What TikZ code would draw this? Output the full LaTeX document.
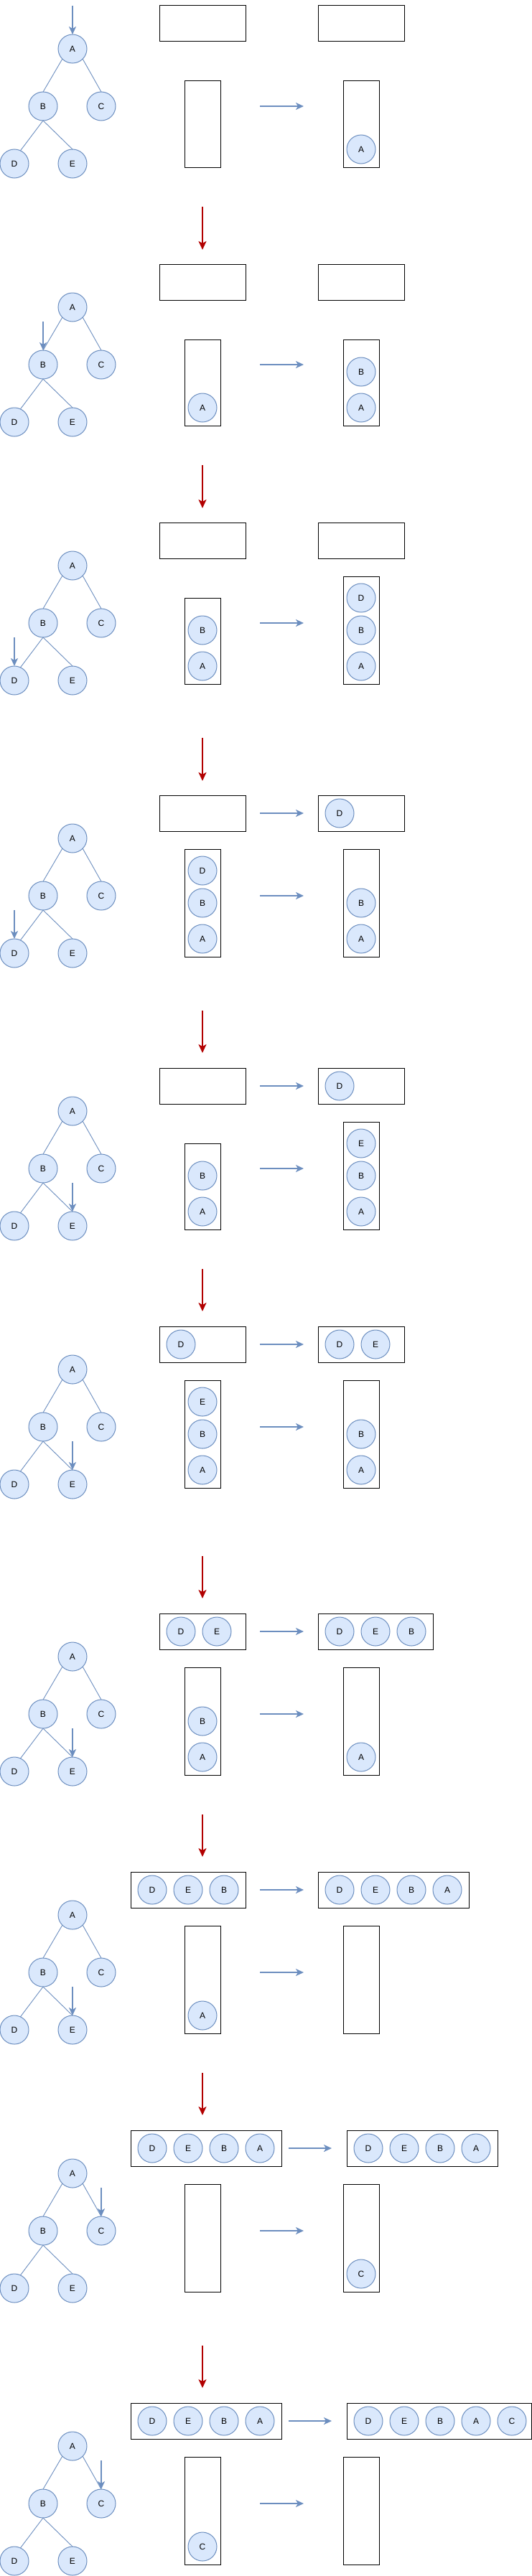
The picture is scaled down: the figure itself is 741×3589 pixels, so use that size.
\documentclass[tikz,border=0pt]{standalone}
\usepackage{fontspec}
\setmainfont{Liberation Sans}
\usetikzlibrary{arrows.meta,calc}
\definecolor{cblue}{HTML}{6C8EBF}
\definecolor{cfill}{HTML}{DAE8FC}
\definecolor{cred}{HTML}{B20000}

\tikzset{
  cnode/.style={circle, draw=cblue, fill=cfill, line width=1pt, minimum size=40pt, inner sep=0pt, outer sep=0pt, font=\fontsize{12}{14}\selectfont},
  box/.style={draw=black, line width=1pt, inner sep=0pt, outer sep=0pt},
  tedge/.style={draw=cblue, line width=0.9pt},
  barrow/.style={draw=cblue, line width=2pt, -{Stealth[length=11pt,width=10pt,inset=3pt]}},
  rarrow/.style={draw=cred, line width=2pt, -{Stealth[length=12pt,width=11pt,inset=3pt]}}
}

\newcommand\mytree[3]{%
  \node[cnode] (#1tA) at (101,#2+68) {A};
  \node[cnode] (#1tB) at (60,#2+148) {B};
  \node[cnode] (#1tC) at (141,#2+148) {C};
  \node[cnode] (#1tD) at (20,#2+228) {D};
  \node[cnode] (#1tE) at (101,#2+228) {E};
  \draw[tedge] (#1tA.south west) -- (#1tB.north);
  \draw[tedge] (#1tA.south east) -- (#1tC.north);
  \draw[tedge] (#1tB.south) -- (#1tD.65);
  \draw[tedge] (#1tB.south) -- (#1tE.north);
  \coordinate (#1p) at ($(#1t#3.north)+(0,-40)$);
  \draw[barrow] (#1p) -- (#1t#3.north);
}
\newcommand\mytopbox[4]{\node[box, minimum width=#4pt, minimum height=50pt, anchor=north west] (#1) at (#2,#3+8) {};}
\newcommand\mystack[4]{\node[box, minimum width=50pt, minimum height=#4pt, anchor=south] (#1) at (#2,#3) {};}
\newcommand\mycirc[4]{\node[cnode] (#1) at (#2,#3) {#4};}
\newcommand\myarrow[6]{\coordinate (#2s) at (#3,#4); \coordinate (#2e) at (#5,#6); \draw[#1] (#2s) -- (#2e);}

\begin{document}
\begin{tikzpicture}[x=1pt, y=-1pt]
\useasboundingbox (0,0) rectangle (741,3589);

% ---------- Block 1 ----------
\mytree{b1}{0}{A}
\mytopbox{b1TL}{222}{0}{120}
\mytopbox{b1TR}{443}{0}{120}
\mystack{b1SL}{282}{233}{120}
\mystack{b1SR}{503}{233}{120}
\mycirc{b1R1}{503}{208}{A}
\myarrow{barrow}{b1m}{362}{148}{423}{148}
\myarrow{rarrow}{r1}{282}{288}{282}{348}

% ---------- Block 2 ----------
\mytree{b2}{360}{B}
\mytopbox{b2TL}{222}{360}{120}
\mytopbox{b2TR}{443}{360}{120}
\mystack{b2SL}{282}{593}{120}
\mystack{b2SR}{503}{593}{120}
\mycirc{b2L1}{282}{568}{A}
\mycirc{b2R1}{503}{568}{A}
\mycirc{b2R2}{503}{518}{B}
\myarrow{barrow}{b2m}{362}{508}{423}{508}
\myarrow{rarrow}{r2}{282}{648}{282}{708}

% ---------- Block 3 ----------
\mytree{b3}{720}{D}
\mytopbox{b3TL}{222}{720}{120}
\mytopbox{b3TR}{443}{720}{120}
\mystack{b3SL}{282}{953}{120}
\mystack{b3SR}{503}{953}{150}
\mycirc{b3L1}{282}{928}{A}
\mycirc{b3L2}{282}{878}{B}
\mycirc{b3R1}{503}{928}{A}
\mycirc{b3R2}{503}{878}{B}
\mycirc{b3R3}{503}{833}{D}
\myarrow{barrow}{b3m}{362}{868}{423}{868}
\myarrow{rarrow}{r3}{282}{1028}{282}{1088}

% ---------- Block 4 ----------
\mytree{b4}{1100}{D}
\mytopbox{b4TL}{222}{1100}{120}
\mytopbox{b4TR}{443}{1100}{120}
\mycirc{b4T1}{473}{1133}{D}
\myarrow{barrow}{b4t}{362}{1133}{423}{1133}
\mystack{b4SL}{282}{1333}{150}
\mystack{b4SR}{503}{1333}{150}
\mycirc{b4L1}{282}{1308}{A}
\mycirc{b4L2}{282}{1258}{B}
\mycirc{b4L3}{282}{1213}{D}
\mycirc{b4R1}{503}{1308}{A}
\mycirc{b4R2}{503}{1258}{B}
\myarrow{barrow}{b4m}{362}{1248}{423}{1248}
\myarrow{rarrow}{r4}{282}{1408}{282}{1467}

% ---------- Block 5 ----------
\mytree{b5}{1480}{E}
\mytopbox{b5TL}{222}{1480}{120}
\mytopbox{b5TR}{443}{1480}{120}
\mycirc{b5T1}{473}{1513}{D}
\myarrow{barrow}{b5t}{362}{1513}{423}{1513}
\mystack{b5SL}{282}{1713}{120}
\mystack{b5SR}{503}{1713}{150}
\mycirc{b5L1}{282}{1688}{A}
\mycirc{b5L2}{282}{1638}{B}
\mycirc{b5R1}{503}{1688}{A}
\mycirc{b5R2}{503}{1638}{B}
\mycirc{b5R3}{503}{1593}{E}
\myarrow{barrow}{b5m}{362}{1628}{423}{1628}
\myarrow{rarrow}{r5}{282}{1768}{282}{1827}

% ---------- Block 6 ----------
\mytree{b6}{1840}{E}
\mytopbox{b6TL}{222}{1840}{120}
\mytopbox{b6TR}{443}{1840}{120}
\mycirc{b6S1}{252}{1873}{D}
\mycirc{b6T1}{473}{1873}{D}
\mycirc{b6T2}{523}{1873}{E}
\myarrow{barrow}{b6t}{362}{1873}{423}{1873}
\mystack{b6SL}{282}{2073}{150}
\mystack{b6SR}{503}{2073}{150}
\mycirc{b6L1}{282}{2048}{A}
\mycirc{b6L2}{282}{1998}{B}
\mycirc{b6L3}{282}{1953}{E}
\mycirc{b6R1}{503}{2048}{A}
\mycirc{b6R2}{503}{1998}{B}
\myarrow{barrow}{b6m}{362}{1988}{423}{1988}
\myarrow{rarrow}{r6}{282}{2168}{282}{2227}

% ---------- Block 7 ----------
\mytree{b7}{2240}{E}
\mytopbox{b7TL}{222}{2240}{120}
\mytopbox{b7TR}{443}{2240}{160}
\mycirc{b7S1}{252}{2273}{D}
\mycirc{b7S2}{302}{2273}{E}
\mycirc{b7T1}{473}{2273}{D}
\mycirc{b7T2}{523}{2273}{E}
\mycirc{b7T3}{573}{2273}{B}
\myarrow{barrow}{b7t}{362}{2273}{423}{2273}
\mystack{b7SL}{282}{2473}{150}
\mystack{b7SR}{503}{2473}{150}
\mycirc{b7L1}{282}{2448}{A}
\mycirc{b7L2}{282}{2398}{B}
\mycirc{b7R1}{503}{2448}{A}
\myarrow{barrow}{b7m}{362}{2388}{423}{2388}
\myarrow{rarrow}{r7}{282}{2528}{282}{2587}

% ---------- Block 8 ----------
\mytree{b8}{2600}{E}
\mytopbox{b8TL}{182}{2600}{160}
\mytopbox{b8TR}{443}{2600}{210}
\mycirc{b8S1}{212}{2633}{D}
\mycirc{b8S2}{262}{2633}{E}
\mycirc{b8S3}{312}{2633}{B}
\mycirc{b8T1}{473}{2633}{D}
\mycirc{b8T2}{523}{2633}{E}
\mycirc{b8T3}{573}{2633}{B}
\mycirc{b8T4}{623}{2633}{A}
\myarrow{barrow}{b8t}{362}{2633}{423}{2633}
\mystack{b8SL}{282}{2833}{150}
\mystack{b8SR}{503}{2833}{150}
\mycirc{b8L1}{282}{2808}{A}
\myarrow{barrow}{b8m}{362}{2748}{423}{2748}
\myarrow{rarrow}{r8}{282}{2888}{282}{2947}

% ---------- Block 9 ----------
\mytree{b9}{2960}{C}
\mytopbox{b9TL}{182}{2960}{210}
\mytopbox{b9TR}{483}{2960}{210}
\mycirc{b9S1}{212}{2993}{D}
\mycirc{b9S2}{262}{2993}{E}
\mycirc{b9S3}{312}{2993}{B}
\mycirc{b9S4}{362}{2993}{A}
\mycirc{b9T1}{513}{2993}{D}
\mycirc{b9T2}{563}{2993}{E}
\mycirc{b9T3}{613}{2993}{B}
\mycirc{b9T4}{663}{2993}{A}
\myarrow{barrow}{b9t}{402}{2993}{462}{2993}
\mystack{b9SL}{282}{3193}{150}
\mystack{b9SR}{503}{3193}{150}
\mycirc{b9R1}{503}{3168}{C}
\myarrow{barrow}{b9m}{362}{3108}{423}{3108}
\myarrow{rarrow}{r9}{282}{3268}{282}{3327}

% ---------- Block 10 ----------
\mytree{b10}{3340}{C}
\mytopbox{b10TL}{182}{3340}{210}
\mytopbox{b10TR}{483}{3340}{257}
\mycirc{b10S1}{212}{3373}{D}
\mycirc{b10S2}{262}{3373}{E}
\mycirc{b10S3}{312}{3373}{B}
\mycirc{b10S4}{362}{3373}{A}
\mycirc{b10T1}{513}{3373}{D}
\mycirc{b10T2}{563}{3373}{E}
\mycirc{b10T3}{613}{3373}{B}
\mycirc{b10T4}{663}{3373}{A}
\mycirc{b10T5}{713}{3373}{C}
\myarrow{barrow}{b10t}{402}{3373}{462}{3373}
\mystack{b10SL}{282}{3573}{150}
\mystack{b10SR}{503}{3573}{150}
\mycirc{b10L1}{282}{3548}{C}
\myarrow{barrow}{b10m}{362}{3488}{423}{3488}
\end{tikzpicture}
\end{document}
